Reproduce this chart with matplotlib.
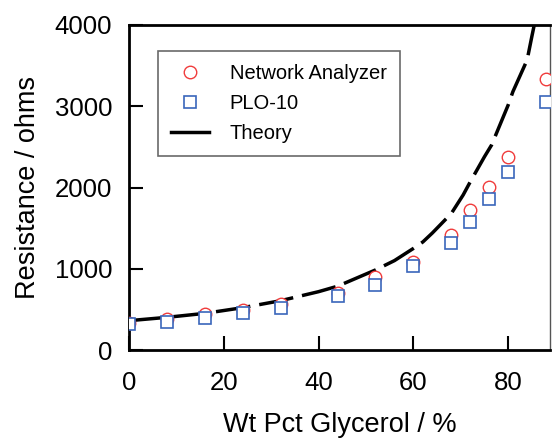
"""Resistance vs glycerol weight percent: measured and theory."""

import matplotlib

matplotlib.use("Agg")
import matplotlib.pyplot as plt
from matplotlib.lines import Line2D

plt.rcParams["font.family"] = ["Liberation Sans", "DejaVu Sans"]

# measured points
glycerol_pct = [0, 8, 16, 24, 32, 44, 52, 60, 68, 72, 76, 80, 88]
network_analyzer = [336, 378, 440, 492, 566, 705, 902, 1086, 1415, 1723, 2003, 2372, 3331]
plo10 = [316, 348, 390, 452, 513, 665, 800, 1034, 1313, 1579, 1855, 2195, 3056]

# theory curve
theory_pct = [0, 8, 16, 24, 32, 40, 44, 52, 56, 60, 62, 64, 66, 68, 70.5, 72, 75,
              76.5, 80, 81, 84, 85, 85.5]
theory_ohms = [361, 402, 451, 521, 607, 718, 785, 985, 1100, 1250, 1330, 1440, 1560,
               1680, 1908, 2070, 2379, 2523, 3015, 3180, 3570, 3860, 4000]

fig = plt.figure(figsize=(5.56, 4.44), dpi=100)
ax = fig.add_axes([0.232, 0.2117, 0.757, 0.732])

ax.plot(theory_pct, theory_ohms, color="black", lw=2.5,
        linestyle=(0, (10, 2.6)), zorder=2)
na, = ax.plot(glycerol_pct, network_analyzer, "o", ms=9, mfc="white", mec="#f03c3c",
              mew=1.0, zorder=3)
plo, = ax.plot(glycerol_pct, plo10, "s", ms=9, mfc="white", mec="#3a66bb",
               mew=1.2, zorder=4)
theory_handle = Line2D([], [], color="black", lw=2.5)

ax.set_xlim(0, 88.8)
ax.set_ylim(0, 4000)
ax.set_xticks([0, 20, 40, 60, 80])
ax.set_yticks([0, 1000, 2000, 3000, 4000])
ax.tick_params(direction="in", length=10, width=1.5, labelsize=18.5)
ax.tick_params(axis="x", pad=15)
ax.tick_params(axis="y", pad=12)

for side in ("left", "bottom", "top"):
    ax.spines[side].set_linewidth(2)
ax.spines["right"].set_linewidth(1)
ax.spines["right"].set_color("#555555")

ax.set_xlabel("Wt Pct Glycerol / %", fontsize=19.5, labelpad=12)
ax.set_ylabel("Resistance / ohms", fontsize=19.5, labelpad=10)

leg = ax.legend([na, plo, theory_handle], ["Network Analyzer", "PLO-10", "Theory"],
                loc="upper left", bbox_to_anchor=(0.069, 0.921), fontsize=14.5,
                frameon=True, fancybox=False, edgecolor="#444444",
                handlelength=1.9, handletextpad=1.0, borderpad=0.65,
                labelspacing=0.55, borderaxespad=0)
leg.get_frame().set_linewidth(1.2)

fig.savefig("out.png", dpi=100)
